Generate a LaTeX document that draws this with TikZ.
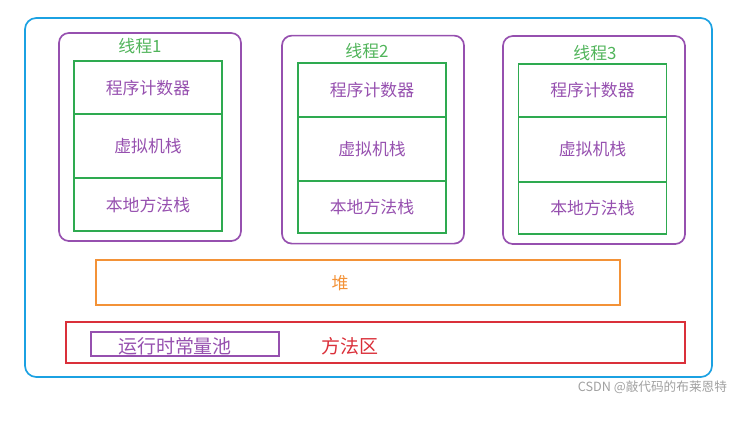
\documentclass[tikz,border=0pt]{standalone}
\usepackage{fontspec}
\setmainfont{Noto Sans CJK SC}
\usepackage{tikz}
\usetikzlibrary{positioning,calc}
\usepackage{xcolor}
\definecolor{colCyan}{RGB}{27,161,226}
\definecolor{colPurple}{RGB}{150,80,175}
\definecolor{colGreen}{RGB}{46,170,80}
\definecolor{colLabel}{RGB}{80,180,90}
\definecolor{colOrange}{RGB}{243,146,55}
\definecolor{colRed}{RGB}{218,48,58}
\definecolor{colMark}{RGB}{160,160,160}

\begin{document}
\begin{tikzpicture}[
  every node/.style={font=\fontsize{12}{14}\selectfont,inner sep=0pt,outer sep=0pt},
  thread/.style={draw=colPurple,line width=1.2pt,rounded corners=7pt,minimum width=4.55cm,minimum height=5.2cm},
  cell/.style={draw=colGreen,line width=1.2pt,minimum width=3.7cm,text=colPurple},
  tname/.style={text=colLabel},
  area/.style={line width=1.2pt}
]
\useasboundingbox (0,0) rectangle (18.825,-10.55);
\draw[colCyan,line width=1.2pt,rounded corners=8pt] (0.625,-0.45) rectangle (17.8,-9.425);

% threads
\node[thread] (t1) at (3.75,-3.425) {};
\node[thread] (t2) at (9.325,-3.49) {};
\node[thread] (t3) at (14.85,-3.5) {};
\node[tname] (n1) at (3.5,-1.15) {线程1};
\node[tname] (n2) at (9.175,-1.275) {线程2};
\node[tname] (n3) at (14.875,-1.325) {线程3};

\node[cell,minimum height=1.325cm] (pc1) at (3.7,-2.19) {程序计数器};
\node[cell,minimum height=1.6cm,below=0pt of pc1] (vm1) {虚拟机栈};
\node[cell,minimum height=1.325cm,below=0pt of vm1] (ns1) {本地方法栈};

\node[cell,minimum height=1.35cm] (pc2) at (9.3,-2.25) {程序计数器};
\node[cell,minimum height=1.6cm,below=0pt of pc2] (vm2) {虚拟机栈};
\node[cell,minimum height=1.3cm,below=0pt of vm2] (ns2) {本地方法栈};

\node[cell,minimum height=1.325cm] (pc3) at (14.8125,-2.2625) {程序计数器};
\node[cell,minimum height=1.625cm,below=0pt of pc3] (vm3) {虚拟机栈};
\node[cell,minimum height=1.3cm,below=0pt of vm3] (ns3) {本地方法栈};

% shared areas
\node[area,draw=colOrange,minimum width=13.1cm,minimum height=1.125cm] (heap) at (8.95,-7.0625) {};
\node[text=colOrange] (heapname) at (8.5,-7.07) {堆};
\node[area,draw=colRed,minimum width=15.475cm,minimum height=1.025cm] (method) at (9.3875,-8.5625) {};
\node[draw=colPurple,line width=1pt,minimum width=4.7cm,minimum height=0.6cm] (pool) at (4.625,-8.6) {};
\node[text=colPurple,font=\fontsize{13.5}{15}\selectfont] (poolname) at (4.375,-8.66) {运行时常量池};
\node[text=colRed,font=\fontsize{13.5}{15}\selectfont] (methodname) at (8.75,-8.65) {方法区};

\node[text=colMark,font=\fontsize{9}{10}\selectfont,anchor=east] (mark) at (18.175,-9.675) {CSDN @敲代码的布莱恩特};
\end{tikzpicture}
\end{document}
